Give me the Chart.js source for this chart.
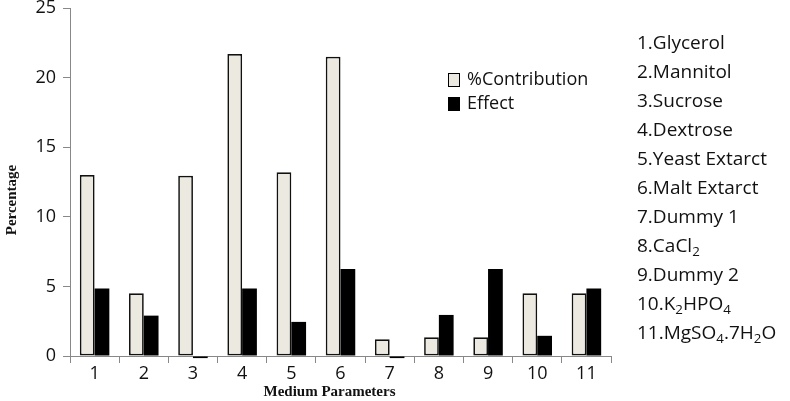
<!DOCTYPE html>
<html>
<head>
<meta charset="utf-8">
<script src="https://cdn.jsdelivr.net/npm/chart.js@4"></script>
<style>
  html, body { margin: 0; padding: 0; background: #fff; }
  #wrap { position: relative; width: 790px; height: 401px; }
  #myChart { position: absolute; left: 0; top: 0; }
  #key {
    position: absolute; left: 637px; top: 28px;
    font-family: "Open Sans", sans-serif; font-size: 19px; line-height: 29px; color: #111;
  }
  #key sub { font-size: 70%; vertical-align: -0.3em; line-height: 0; }
</style>
</head>
<body>
<div id="wrap">
  <canvas id="myChart" width="790" height="401"></canvas>
  <div id="key"></div>
</div>
<script>
// categories (medium parameters)
const labels = ['1', '2', '3', '4', '5', '6', '7', '8', '9', '10', '11'];
const contribution = [13.0, 4.5, 12.95, 21.7, 13.2, 21.5, 1.2, 1.35, 1.35, 4.5, 4.5];
const effect = [4.85, 2.9, -0.15, 4.85, 2.45, 6.25, -0.15, 2.95, 6.25, 1.45, 4.85];
const yTicks = [0, 5, 10, 15, 20, 25];
const paramNames = ['Glycerol', 'Mannitol', 'Sucrose', 'Dextrose', 'Yeast Extarct', 'Malt Extarct',
  'Dummy 1', 'CaCl<sub>2</sub>', 'Dummy 2', 'K<sub>2</sub>HPO<sub>4</sub>', 'MgSO<sub>4</sub>.7H<sub>2</sub>O'];

document.querySelector('#key').innerHTML =
  paramNames.map((n, i) => '<div>' + labels[i] + '.' + n + '</div>').join('');

const ctx = document.querySelector('#myChart');

// legend + axis titles drawn by hand, they sit inside the plot in the original
const extras = {
  id: 'extras',
  afterDraw(chart) {
    const c = chart.ctx;
    const a = chart.chartArea;
    c.save();
    // legend
    const lx = a.left + 378, ly = a.top + 65;
    chart.data.datasets.forEach((ds, i) => {
      const y = ly + i * 24;
      c.fillStyle = ds.backgroundColor;
      c.fillRect(lx, y, 12, 14);
      c.strokeStyle = '#000';
      c.lineWidth = 1;
      c.strokeRect(lx + 0.5, y + 0.5, 11, 13);
      c.fillStyle = '#111';
      c.font = '18px "Open Sans"';
      c.textBaseline = 'middle';
      c.textAlign = 'left';
      c.fillText(ds.label, lx + 19, y + 7);
    });
    // axis titles
    c.font = 'bold 15px "Liberation Serif"';
    c.fillStyle = '#111';
    c.textAlign = 'center';
    c.textBaseline = 'middle';
    c.fillText('Medium Parameters', (a.left + a.right) / 2 - 11, chart.height - 9);
    c.translate(12, (a.top + a.bottom) / 2 + 18);
    c.rotate(-Math.PI / 2);
    c.fillText('Percentage', 0, 0);
    c.restore();
  }
};

new Chart(ctx, {
  type: 'bar',
  data: {
    labels: labels,
    datasets: [{
      label: '%Contribution',
      data: contribution,
      backgroundColor: '#ecEAE0',
      borderColor: '#111',
      borderWidth: 1.7,
      borderSkipped: false,
      clip: false
    },
    {
      label: 'Effect',
      data: effect,
      backgroundColor: '#000',
      borderWidth: 0,
      clip: false
    }]
  },
  options: {
    responsive: false,
    animation: false,
    layout: { padding: { top: 8, right: 179, left: 0, bottom: 0 } },
    datasets: { bar: { categoryPercentage: 0.6, barPercentage: 1.0 } },
    plugins: { legend: { display: false }, tooltip: { enabled: false } },
    scales: {
      x: {
        grid: { offset: true, drawOnChartArea: false, tickLength: 7, color: '#888' },
        border: { color: '#888' },
        ticks: { color: '#111', font: { family: 'Open Sans', size: 18 }, padding: 0 },
        afterFit: (s) => { s.height = 45; s.paddingLeft = 0; s.paddingRight = 0; }
      },
      y: {
        min: 0,
        max: 25,
        afterBuildTicks: (s) => { s.ticks = yTicks.map(v => ({ value: v })); },
        grid: { drawOnChartArea: false, tickLength: 7, color: '#888' },
        border: { color: '#888' },
        ticks: { color: '#111', font: { family: 'Open Sans', size: 18 }, padding: 7 },
        afterFit: (s) => { s.width = 70; s.paddingTop = 0; s.paddingBottom = 0; }
      }
    }
  },
  plugins: [extras]
});
</script>
</body>
</html>
